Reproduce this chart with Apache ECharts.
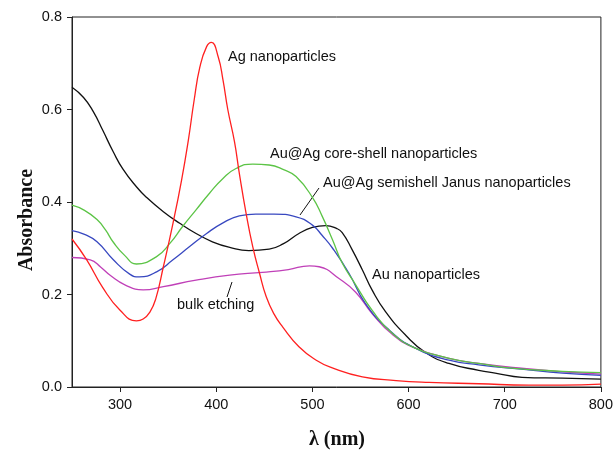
<!DOCTYPE html>
<html>
<head>
<meta charset="utf-8">
<script src="https://cdn.jsdelivr.net/npm/echarts@6/dist/echarts.min.js"></script>
<style>
html,body{margin:0;padding:0;background:#fff;}
#c{width:616px;height:452px;}
</style>
</head>
<body>
<div id="c"></div>
<script>
// Wavelength (nm) and absorbance
var agWl  = [250, 265, 282, 300, 317, 324, 331, 337, 345, 355, 364, 371, 377, 383, 390, 395, 402, 407, 412, 419, 424, 431, 438, 445, 452, 460, 469, 486, 504, 520, 552, 587, 621, 673, 725, 760, 800];
var agAbs = [0.320, 0.276, 0.215, 0.166, 0.143, 0.147, 0.162, 0.190, 0.260, 0.354, 0.448, 0.534, 0.620, 0.692, 0.736, 0.745, 0.714, 0.664, 0.600, 0.530, 0.462, 0.376, 0.303, 0.246, 0.195, 0.158, 0.130, 0.087, 0.058, 0.042, 0.022, 0.014, 0.010, 0.007, 0.004, 0.004, 0.006];

var auWl  = [250, 262, 272, 282, 293, 303, 317, 327, 345, 362, 379, 396, 414, 434, 455, 470, 486, 500, 514, 525, 531, 541, 552, 562, 576, 597, 618, 642, 673, 690, 718, 760, 800];
var auAbs = [0.648, 0.626, 0.596, 0.555, 0.508, 0.471, 0.433, 0.411, 0.379, 0.354, 0.332, 0.314, 0.302, 0.295, 0.298, 0.310, 0.332, 0.345, 0.349, 0.343, 0.334, 0.298, 0.253, 0.210, 0.163, 0.112, 0.074, 0.051, 0.036, 0.030, 0.021, 0.019, 0.017];

var csWl  = [250, 263, 276, 285, 293, 305, 317, 338, 352, 365, 379, 393, 407, 421, 438, 455, 470, 483, 500, 510, 521, 531, 545, 562, 583, 607, 631, 656, 673, 707, 760, 800];
var csAbs = [0.393, 0.382, 0.362, 0.339, 0.313, 0.284, 0.266, 0.282, 0.311, 0.347, 0.383, 0.419, 0.451, 0.473, 0.482, 0.480, 0.470, 0.455, 0.410, 0.370, 0.318, 0.268, 0.221, 0.166, 0.116, 0.084, 0.068, 0.056, 0.051, 0.041, 0.034, 0.031];

var jWl   = [250, 263, 276, 293, 310, 320, 338, 355, 372, 390, 407, 424, 441, 460, 483, 500, 510, 521, 538, 555, 580, 607, 642, 673, 720, 760, 800];
var jAbs  = [0.338, 0.330, 0.314, 0.275, 0.244, 0.238, 0.249, 0.275, 0.303, 0.332, 0.355, 0.370, 0.374, 0.374, 0.368, 0.350, 0.328, 0.300, 0.246, 0.181, 0.123, 0.084, 0.058, 0.048, 0.038, 0.030, 0.025];

var beWl  = [250, 269, 280, 290, 305, 324, 345, 379, 414, 448, 475, 497, 507, 528, 545, 562, 583, 607, 642, 673, 720, 760, 800];
var beAbs = [0.280, 0.275, 0.259, 0.241, 0.221, 0.210, 0.217, 0.231, 0.242, 0.248, 0.254, 0.262, 0.260, 0.234, 0.205, 0.159, 0.114, 0.084, 0.062, 0.051, 0.040, 0.033, 0.028];

var xTicks = [300, 400, 500, 600, 700, 800];
var yTicks = [0, 0.2, 0.4, 0.6, 0.8];

function pairs(xs, ys){ return xs.map(function(x,i){ return [x, ys[i]]; }); }

var chart = echarts.init(document.getElementById('c'), null, {renderer:'canvas'});
var labelFont = {fontFamily:'Liberation Sans, Arial, sans-serif', fontSize:14.5, fill:'#111'};
function mkSeries(name, xs, ys, color){
  return {name:name, type:'line', data:pairs(xs, ys), showSymbol:false, smooth:0.5,
    lineStyle:{color:color, width:1.3}, itemStyle:{color:color}, z:3};
}
chart.setOption({
  animation:false,
  grid:{left:72, right:13, top:17, bottom:65, show:true, borderColor:'#222', borderWidth:1},
  xAxis:{type:'value', min:250, max:800,
    axisLine:{show:true, lineStyle:{color:'#222', width:1}},
    axisTick:{show:true, length:5, inside:false, customValues:xTicks, lineStyle:{color:'#222'}},
    axisLabel:{customValues:xTicks, color:'#111', fontSize:14.5, fontFamily:'Liberation Sans, Arial, sans-serif', margin:10},
    splitLine:{show:false}},
  yAxis:{type:'value', min:0, max:0.8, interval:0.2,
    axisLine:{show:true, lineStyle:{color:'#222', width:1}},
    axisTick:{show:true, length:5, inside:false, lineStyle:{color:'#222'}},
    axisLabel:{color:'#111', fontSize:14.5, fontFamily:'Liberation Sans, Arial, sans-serif', margin:10,
      formatter:function(v){ return v.toFixed(1); }},
    splitLine:{show:false}},
  series:[
    mkSeries('Au nanoparticles', auWl, auAbs, '#111111'),
    mkSeries('bulk etching', beWl, beAbs, '#c040b8'),
    mkSeries('Au@Ag semishell Janus nanoparticles', jWl, jAbs, '#3848c0'),
    mkSeries('Au@Ag core-shell nanoparticles', csWl, csAbs, '#5cc446'),
    mkSeries('Ag nanoparticles', agWl, agAbs, '#ff2020')
  ],
  graphic:[
    {type:'text', left:228, top:49, style:Object.assign({text:'Ag nanoparticles'}, labelFont)},
    {type:'text', left:270, top:146, style:Object.assign({text:'Au@Ag core-shell nanoparticles'}, labelFont)},
    {type:'text', left:323, top:175, style:Object.assign({text:'Au@Ag semishell Janus nanoparticles'}, labelFont)},
    {type:'text', left:372, top:267, style:Object.assign({text:'Au nanoparticles'}, labelFont)},
    {type:'text', left:177, top:297, style:Object.assign({text:'bulk etching'}, labelFont)},
    {type:'line', shape:{x1:300, y1:215, x2:319, y2:188}, style:{stroke:'#111', lineWidth:1}},
    {type:'line', shape:{x1:232, y1:282, x2:227, y2:297}, style:{stroke:'#111', lineWidth:1}},
    {type:'text', x:27, y:220, rotation:Math.PI/2,
      style:{text:'Absorbance', fontFamily:'Liberation Serif, Times New Roman, serif', fontWeight:'bold', fontSize:20, fill:'#111', align:'center', verticalAlign:'middle'}},
    {type:'text', x:337, y:440,
      style:{text:'λ (nm)', fontFamily:'Liberation Serif, Times New Roman, serif', fontWeight:'bold', fontSize:20, fill:'#111', align:'center', verticalAlign:'middle'}}
  ]
});
</script>
</body>
</html>
